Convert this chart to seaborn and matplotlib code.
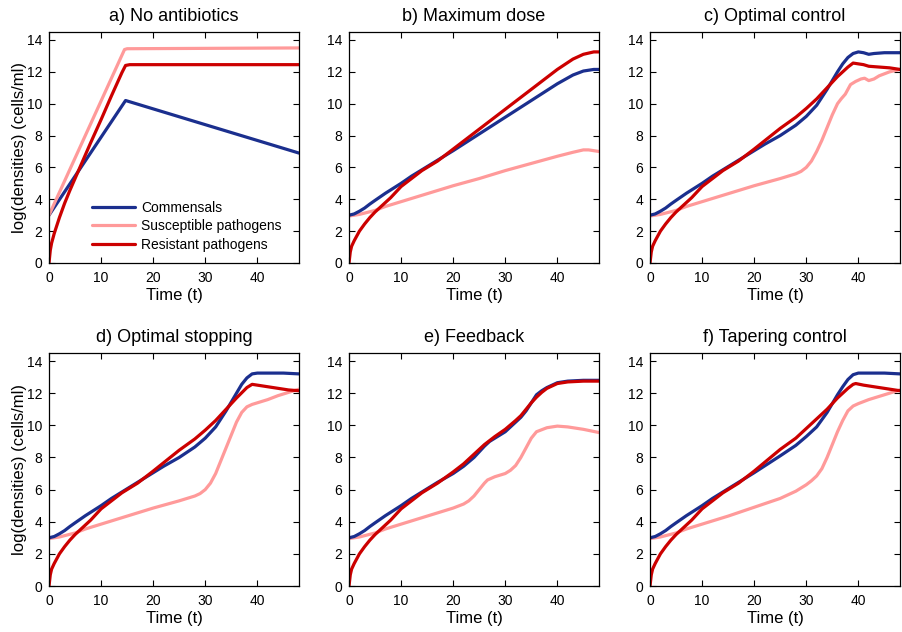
import matplotlib
matplotlib.use("Agg")
import matplotlib.pyplot as plt
import seaborn as sns

# ---------------- data ----------------
titles = ["a) No antibiotics", "b) Maximum dose", "c) Optimal control",
          "d) Optimal stopping", "e) Feedback", "f) Tapering control"]
series_names = ["Commensals", "Susceptible pathogens", "Resistant pathogens"]

# a) No antibiotics
a_com_t = [0, 14.7, 48]
a_com_y = [3.0, 10.2, 6.9]
a_sus_t = [0, 14.5, 15, 48]
a_sus_y = [3.0, 13.4, 13.45, 13.5]
a_res_t = [0, 0.25, 0.5, 1, 2, 3, 4, 5, 6, 8, 10, 12, 14, 14.7, 15.5, 48]
a_res_y = [0, 0.8, 1.25, 1.85, 2.85, 3.75, 4.55, 5.3, 6.05, 7.55, 9.0, 10.5, 11.95, 12.4, 12.45, 12.45]

# b) Maximum dose
b_com_t = [0, 1, 2, 3, 4, 5, 7, 10, 12, 14, 17, 20, 25, 30, 35, 40, 43, 45, 47, 48]
b_com_y = [3.0, 3.08, 3.25, 3.45, 3.7, 3.93, 4.38, 5.0, 5.45, 5.85, 6.45, 7.05, 8.1, 9.15, 10.2, 11.25, 11.8, 12.05, 12.15, 12.15]
b_sus_t = [0, 2, 5, 7, 10, 15, 20, 25, 30, 35, 40, 43, 45, 46, 47, 48]
b_sus_y = [2.95, 3.05, 3.3, 3.55, 3.85, 4.35, 4.85, 5.3, 5.8, 6.25, 6.7, 6.95, 7.1, 7.1, 7.05, 7.0]
b_res_t = [0, 0.25, 0.5, 1, 2, 3, 4, 5, 6, 7, 8, 10, 12, 14, 17, 20, 25, 30, 35, 40, 43, 45, 47, 48]
b_res_y = [0, 0.7, 1.05, 1.4, 2.0, 2.45, 2.85, 3.2, 3.5, 3.8, 4.1, 4.8, 5.3, 5.8, 6.4, 7.15, 8.4, 9.65, 10.9, 12.15, 12.8, 13.1, 13.25, 13.25]

# c) Optimal control
c_com_t = [0, 1, 2, 3, 4, 5, 7, 10, 12, 14, 17, 20, 22, 25, 28, 30, 32, 34, 36, 37, 38, 39, 40, 41, 42, 43, 45, 48]
c_com_y = [3.0, 3.08, 3.25, 3.45, 3.7, 3.93, 4.38, 5.0, 5.45, 5.85, 6.45, 7.05, 7.45, 8.0, 8.65, 9.2, 9.9, 10.9, 12.0, 12.5, 12.9, 13.15, 13.25, 13.2, 13.1, 13.15, 13.2, 13.2]
c_sus_t = [0, 2, 5, 7, 10, 15, 20, 25, 28, 29, 30, 31, 32, 33, 34, 35, 36, 36.7, 37.5, 38.5, 39.5, 40.5, 41.2, 42, 43, 44, 46, 48]
c_sus_y = [2.95, 3.05, 3.3, 3.55, 3.85, 4.35, 4.85, 5.3, 5.6, 5.75, 6.0, 6.4, 7.0, 7.7, 8.5, 9.3, 10.0, 10.3, 10.6, 11.2, 11.4, 11.55, 11.6, 11.45, 11.55, 11.75, 12.0, 12.15]
c_res_t = [0, 0.25, 0.5, 1, 2, 3, 4, 5, 6, 7, 8, 10, 12, 14, 17, 20, 25, 28, 30, 32, 34, 36, 38, 39, 40, 41, 42, 44, 46, 48]
c_res_y = [0, 0.7, 1.05, 1.4, 2.0, 2.45, 2.85, 3.2, 3.5, 3.8, 4.1, 4.8, 5.3, 5.8, 6.4, 7.15, 8.45, 9.15, 9.7, 10.3, 11.0, 11.7, 12.3, 12.55, 12.5, 12.45, 12.35, 12.3, 12.25, 12.15]

# d) Optimal stopping
d_com_t = [0, 1, 2, 3, 4, 5, 7, 10, 12, 14, 17, 20, 22, 25, 28, 30, 32, 34, 36, 37, 38, 39, 40, 42, 45, 48]
d_com_y = [3.0, 3.08, 3.25, 3.45, 3.7, 3.93, 4.38, 5.0, 5.45, 5.85, 6.45, 7.05, 7.45, 8.0, 8.65, 9.2, 9.9, 10.9, 12.0, 12.55, 12.95, 13.2, 13.25, 13.25, 13.25, 13.2]
d_sus_t = [0, 2, 5, 7, 10, 15, 20, 25, 28, 29, 30, 31, 32, 33, 34, 35, 36, 37, 38, 39, 40, 42, 44, 46, 48]
d_sus_y = [2.95, 3.05, 3.3, 3.55, 3.85, 4.35, 4.85, 5.3, 5.6, 5.75, 6.0, 6.4, 7.0, 7.8, 8.6, 9.4, 10.2, 10.8, 11.15, 11.3, 11.4, 11.6, 11.85, 12.05, 12.25]
d_res_t = [0, 0.25, 0.5, 1, 2, 3, 4, 5, 6, 7, 8, 10, 12, 14, 17, 20, 25, 28, 30, 32, 34, 36, 38, 39, 40, 42, 44, 46, 48]
d_res_y = [0, 0.7, 1.05, 1.4, 2.0, 2.45, 2.85, 3.2, 3.5, 3.8, 4.1, 4.8, 5.3, 5.8, 6.4, 7.15, 8.45, 9.15, 9.7, 10.3, 11.0, 11.7, 12.35, 12.55, 12.5, 12.4, 12.3, 12.2, 12.15]

# e) Feedback
e_com_t = [0, 1, 2, 3, 4, 5, 7, 10, 12, 14, 17, 20, 22, 24, 26, 27, 28, 30, 32, 33, 34, 35, 36, 37, 38, 40, 42, 45, 48]
e_com_y = [3.0, 3.08, 3.25, 3.45, 3.7, 3.93, 4.38, 5.0, 5.45, 5.85, 6.45, 7.0, 7.45, 8.0, 8.7, 9.0, 9.2, 9.6, 10.2, 10.5, 10.9, 11.4, 11.9, 12.15, 12.35, 12.65, 12.75, 12.8, 12.8]
e_sus_t = [0, 2, 5, 7, 10, 15, 20, 22, 23, 24, 25, 26, 26.6, 28, 30, 31, 32, 33, 34, 35, 36, 38, 40, 42, 45, 48]
e_sus_y = [2.95, 3.05, 3.3, 3.55, 3.85, 4.35, 4.85, 5.1, 5.3, 5.6, 6.0, 6.4, 6.6, 6.8, 7.0, 7.2, 7.5, 8.0, 8.6, 9.2, 9.6, 9.85, 9.95, 9.9, 9.75, 9.55]
e_res_t = [0, 0.25, 0.5, 1, 2, 3, 4, 5, 6, 7, 8, 10, 12, 14, 17, 20, 22, 24, 26, 27, 28, 30, 32, 33, 34, 35, 36, 37, 38, 40, 42, 45, 48]
e_res_y = [0, 0.7, 1.05, 1.4, 2.0, 2.45, 2.85, 3.2, 3.5, 3.8, 4.1, 4.8, 5.3, 5.8, 6.4, 7.1, 7.6, 8.2, 8.8, 9.05, 9.3, 9.75, 10.3, 10.6, 11.0, 11.4, 11.75, 12.05, 12.3, 12.6, 12.7, 12.75, 12.75]

# f) Tapering control
f_com_t = [0, 1, 2, 3, 4, 5, 7, 10, 12, 14, 17, 20, 25, 28, 30, 32, 34, 36, 37, 38, 39, 40, 42, 45, 48]
f_com_y = [3.0, 3.08, 3.25, 3.45, 3.7, 3.93, 4.38, 5.0, 5.45, 5.85, 6.45, 7.05, 8.1, 8.75, 9.3, 9.9, 10.8, 11.9, 12.4, 12.85, 13.15, 13.25, 13.25, 13.25, 13.2]
f_sus_t = [0, 2, 5, 7, 10, 15, 20, 25, 28, 30, 31, 32, 33, 34, 35, 36, 37, 38, 39, 40, 42, 44, 46, 48]
f_sus_y = [2.95, 3.05, 3.3, 3.55, 3.85, 4.35, 4.9, 5.45, 5.9, 6.3, 6.55, 6.85, 7.3, 8.0, 8.8, 9.6, 10.3, 10.9, 11.2, 11.35, 11.6, 11.8, 12.0, 12.2]
f_res_t = [0, 0.25, 0.5, 1, 2, 3, 4, 5, 6, 7, 8, 10, 12, 14, 17, 20, 25, 28, 30, 32, 34, 36, 38, 39, 39.5, 41, 43, 45, 48]
f_res_y = [0, 0.7, 1.05, 1.4, 2.0, 2.45, 2.85, 3.2, 3.5, 3.8, 4.1, 4.8, 5.3, 5.8, 6.4, 7.15, 8.5, 9.2, 9.8, 10.4, 11.0, 11.7, 12.3, 12.55, 12.6, 12.5, 12.4, 12.3, 12.15]

x_ticks = [0, 10, 20, 30, 40]
y_ticks = [0, 2, 4, 6, 8, 10, 12, 14]

# ---------------- style ----------------
sns.set_theme(style="ticks")
plt.rcParams["font.family"] = ["Liberation Sans", "DejaVu Sans"]
plt.rcParams["xtick.direction"] = "in"
plt.rcParams["ytick.direction"] = "in"
plt.rcParams["xtick.top"] = True
plt.rcParams["ytick.right"] = True
plt.rcParams["text.color"] = "black"
plt.rcParams["axes.labelcolor"] = "black"
plt.rcParams["xtick.color"] = "black"
plt.rcParams["ytick.color"] = "black"
plt.rcParams["axes.edgecolor"] = "black"

colors = ["#1b2f8e", "#ff9a9a", "#cc0000"]

panels = [
    [(a_com_t, a_com_y), (a_sus_t, a_sus_y), (a_res_t, a_res_y)],
    [(b_com_t, b_com_y), (b_sus_t, b_sus_y), (b_res_t, b_res_y)],
    [(c_com_t, c_com_y), (c_sus_t, c_sus_y), (c_res_t, c_res_y)],
    [(d_com_t, d_com_y), (d_sus_t, d_sus_y), (d_res_t, d_res_y)],
    [(e_com_t, e_com_y), (e_sus_t, e_sus_y), (e_res_t, e_res_y)],
    [(f_com_t, f_com_y), (f_sus_t, f_sus_y), (f_res_t, f_res_y)],
]

fig = plt.figure(figsize=(9.02, 6.32), dpi=100)
lefts = [49 / 902, 349 / 902, 650 / 902]
width = 250 / 902
rows = [(1 - 263 / 632, 231 / 632), (1 - 586 / 632, 233 / 632)]

for i, (title, pdata) in enumerate(zip(titles, panels)):
    r, c = divmod(i, 3)
    ax = fig.add_axes([lefts[c], rows[r][0], width, rows[r][1]])
    order = [1, 0, 2] if i > 0 else [0, 1, 2]
    for k in order:
        tt, yy = pdata[k]
        sns.lineplot(x=tt, y=yy, ax=ax, color=colors[k], lw=2.3,
                     sort=False, estimator=None,
                     label=series_names[k] if i == 0 else None)
    ax.set_xlim(0, 48)
    ax.set_ylim(0, 14.5)
    ax.set_xticks(x_ticks)
    ax.set_yticks(y_ticks)
    ax.tick_params(labelsize=10, length=4, width=0.8, colors="black")
    ax.tick_params(axis="x", pad=6)
    ax.tick_params(axis="y", pad=5)
    for s in ax.spines.values():
        s.set_linewidth(0.9)
        s.set_color("black")
    ax.set_title(title, fontsize=13, pad=8, color="black")
    ax.set_xlabel("Time (t)", fontsize=12, labelpad=2)
    if c == 0:
        ax.set_ylabel("log(densities) (cells/ml)", fontsize=12, labelpad=0)
    else:
        ax.set_ylabel("")
    if i == 0:
        h, l = ax.get_legend_handles_labels()
        ax.legend(h, l, loc="lower left", bbox_to_anchor=(0.15, 0.025),
                  frameon=False, fontsize=10, handlelength=3.1,
                  handletextpad=0.45, labelspacing=0.32, borderaxespad=0)
    elif ax.get_legend() is not None:
        ax.get_legend().remove()

fig.savefig("out.png", dpi=100)
